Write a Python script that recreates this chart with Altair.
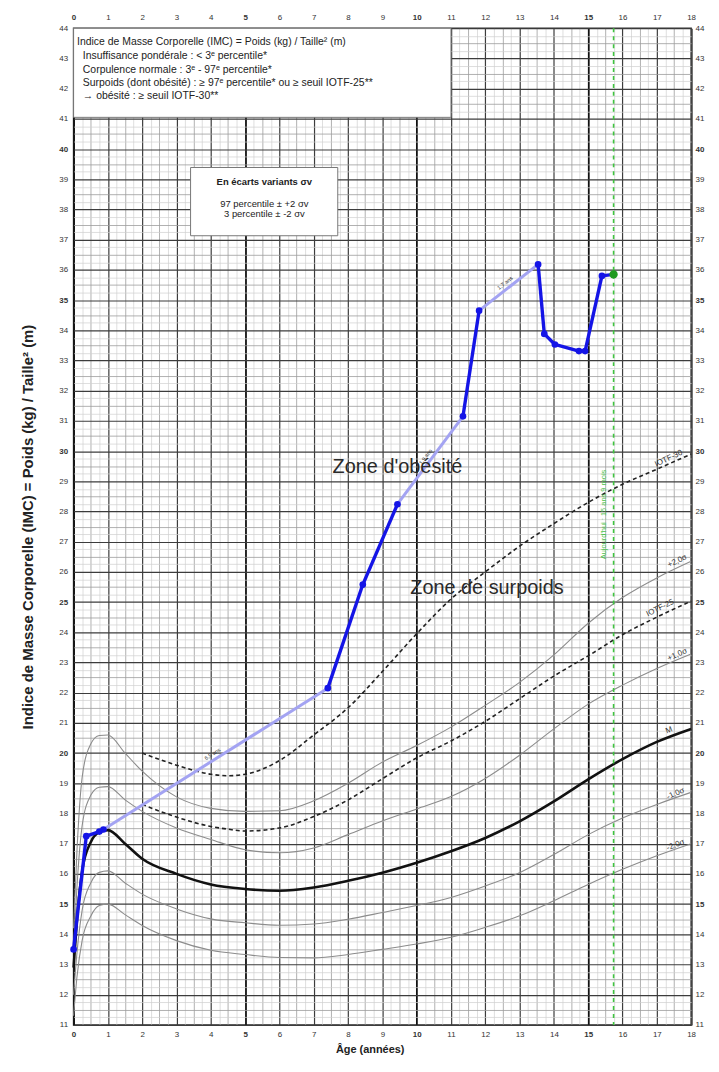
import altair as alt
import pandas as pd
import numpy as np

# ---------------- reference curves ----------------
AGES = [0, 0.1, 0.25, 0.5, 0.75, 1, 1.5, 2, 3, 4, 5, 6, 7, 8, 9, 10, 11, 12, 13, 14, 15, 16, 17, 18]
SD_PLUS2 = [14.2, 16.8, 19.2, 20.3, 20.58, 20.6, 20.0, 19.4, 18.55, 18.17, 18.07, 18.09, 18.42, 19.0, 19.7, 20.25,
            20.86, 21.58, 22.34, 23.25, 24.3, 25.15, 25.8, 26.35]
SD_PLUS1 = [13.5, 15.6, 17.6, 18.6, 18.87, 18.89, 18.45, 18.07, 17.52, 17.14, 16.8, 16.7, 16.86, 17.3, 17.75, 18.15,
            18.56, 19.16, 19.93, 20.8, 21.62, 22.25, 22.8, 23.28]
MEDIAN = [12.9, 14.5, 16.1, 17.05, 17.38, 17.45, 17.0, 16.5, 16.0, 15.65, 15.5, 15.44, 15.55, 15.77, 16.04, 16.37,
          16.75, 17.19, 17.74, 18.4, 19.13, 19.8, 20.37, 20.8]
SD_MINUS1 = [12.0, 13.4, 14.8, 15.7, 16.05, 16.1, 15.7, 15.33, 14.84, 14.51, 14.38, 14.3, 14.34, 14.5, 14.72, 14.95,
             15.22, 15.6, 16.04, 16.64, 17.3, 17.85, 18.3, 18.7]
SD_MINUS2 = [11.3, 12.6, 13.8, 14.6, 14.95, 15.0, 14.65, 14.29, 13.79, 13.47, 13.33, 13.23, 13.22, 13.33, 13.5, 13.68,
             13.9, 14.23, 14.61, 15.11, 15.65, 16.15, 16.6, 17.0]
IOTF_AGES = [2, 3, 4, 4.5, 5, 6, 7, 8, 9, 10, 11, 12, 13, 14, 15, 16, 17, 18]
IOTF30 = [20.0, 19.6, 19.3, 19.25, 19.3, 19.75, 20.6, 21.5, 22.7, 23.95, 25.1, 26.0, 26.85, 27.6, 28.3, 28.9, 29.4, 29.9]
IOTF25 = [18.3, 17.88, 17.57, 17.48, 17.42, 17.52, 17.9, 18.45, 19.15, 19.84, 20.4, 21.05, 21.8, 22.55, 23.22, 23.92,
          24.5, 25.03]

# ---------------- patient measurements ----------------
PATIENT_AGE = [0, 0.37, 0.75, 0.87, 7.41, 8.43, 9.44, 11.35, 11.82, 13.54, 13.72, 14.03, 14.73, 14.91, 15.40, 15.74]
PATIENT_BMI = [13.5, 17.25, 17.4, 17.47, 22.15, 25.58, 28.24, 31.15, 34.65, 36.18, 33.88, 33.53, 33.31, 33.31, 35.8, 35.85]
TODAY_AGE = 15.74

# ---------------- texts ----------------
LEGEND_LINES = [
    "Indice de Masse Corporelle (IMC) = Poids (kg) / Taille² (m)",
    "Insuffisance pondérale : < 3ᵉ percentile*",
    "Corpulence normale : 3ᵉ - 97ᵉ percentile*",
    "Surpoids (dont obésité) : ≥ 97ᵉ percentile* ou ≥ seuil IOTF-25**",
    "→  obésité : ≥ seuil IOTF-30**",
]
LEGEND_X = [0.1, 0.27, 0.27, 0.27, 0.27]
LEGEND_Y = [43.53, 43.07, 42.63, 42.19, 41.75]
SIGMA_TITLE = "En écarts variants σv"
SIGMA_LINES = ["97 percentile ± +2 σv", "3 percentile ± -2 σv"]
SIGMA_TITLE_Y = 38.9
SIGMA_Y = [38.19, 37.86]

X_MIN, X_MAX = 0, 18
Y_MIN, Y_MAX = 11, 44
W, H = 621.5, 1003
PX_X = W / (X_MAX - X_MIN)
PX_Y = H / (Y_MAX - Y_MIN)

xs = alt.Scale(domain=[X_MIN, X_MAX], nice=False, zero=False)
ys = alt.Scale(domain=[Y_MIN, Y_MAX], nice=False, zero=False)

X_GRID = [round(float(v), 2) for v in np.arange(X_MIN, X_MAX + 0.001, 0.25)]
Y_GRID = [round(float(v), 2) for v in np.arange(Y_MIN, Y_MAX + 0.001, 0.25)]


def cond(levels, default):
    return {"condition": [{"test": t, "value": v} for t, v in levels], "value": default}


grid_color_x = cond([("datum.value % 5 === 0", "#111111"), ("datum.value % 1 === 0", "#3c3c3c"),
                     ("datum.value % 0.5 === 0", "#9c9c9c")], "#d0d0d0")
grid_width_x = cond([("datum.value % 5 === 0", 1.8), ("datum.value % 1 === 0", 1.2),
                     ("datum.value % 0.5 === 0", 0.8)], 0.7)
grid_color_y = cond([("datum.value % 1 === 0", "#3c3c3c"), ("datum.value % 0.5 === 0", "#9c9c9c")], "#d0d0d0")
grid_width_y = cond([("datum.value % 1 === 0", 1.2), ("datum.value % 0.5 === 0", 0.8)], 0.7)
bold5 = {"condition": {"test": "datum.value % 5 === 0", "value": "bold"}, "value": "normal"}
LBL = "datum.value % 1 === 0 ? '' + datum.value : ''"

common_lbl = dict(labelExpr=LBL, labelFontSize=8, labelFontWeight=bold5, labelColor="#333",
                  labelOverlap=False, labelFlush=False, ticks=False, domain=False)

x_bottom = alt.Axis(orient="bottom", values=X_GRID, grid=True, gridColor=grid_color_x, gridWidth=grid_width_x,
                    labelPadding=6, title="Âge (années)", titleFontSize=11, titleFontWeight="bold",
                    titleColor="#222", titlePadding=5, titleX=298, **common_lbl)
y_left = alt.Axis(orient="left", values=Y_GRID, grid=True, gridColor=grid_color_y, gridWidth=grid_width_y,
                  labelPadding=6, title="Indice de Masse Corporelle (IMC) = Poids (kg) / Taille² (m)",
                  titleFontSize=15, titleFontWeight="bold", titleColor="#222", titlePadding=23, **common_lbl)
x_top = alt.Axis(orient="top", values=X_GRID, grid=False, labelPadding=7, title=None, **common_lbl)
y_right = alt.Axis(orient="right", values=Y_GRID, grid=False, labelPadding=4, title=None, **common_lbl)

# ---------------- data tables ----------------
thin_rows = []
for name, vals in [("+2", SD_PLUS2), ("+1", SD_PLUS1), ("-1", SD_MINUS1), ("-2", SD_MINUS2)]:
    for a, v in zip(AGES, vals):
        thin_rows.append({"curve": name, "age": a, "bmi": v})
thin_df = pd.DataFrame(thin_rows)
med_df = pd.DataFrame({"age": AGES, "bmi": MEDIAN})
iotf_rows = []
for name, vals in [("IOTF-30", IOTF30), ("IOTF-25", IOTF25)]:
    for a, v in zip(IOTF_AGES, vals):
        iotf_rows.append({"curve": name, "age": a, "bmi": v})
iotf_df = pd.DataFrame(iotf_rows)

seg_rows, gap_rows = [], []
for i in range(len(PATIENT_AGE) - 1):
    a0, a1 = PATIENT_AGE[i], PATIENT_AGE[i + 1]
    b0, b1 = PATIENT_BMI[i], PATIENT_BMI[i + 1]
    kind = "gap" if a1 - a0 > 1.5 else "obs"
    seg_rows.append({"seg": i, "kind": kind, "age": a0, "bmi": b0})
    seg_rows.append({"seg": i, "kind": kind, "age": a1, "bmi": b1})
    if kind == "gap":
        ang = np.degrees(np.arctan2((b1 - b0) * PX_Y, (a1 - a0) * PX_X))
        gap_rows.append({"age": (a0 + a1) / 2, "bmi": (b0 + b1) / 2, "ang": float((360 - ang) % 360),
                         "txt": f"{a1 - a0:.1f}".replace(".", ",") + " ans"})
seg_df = pd.DataFrame(seg_rows)
gap_df = pd.DataFrame(gap_rows)
pts_df = pd.DataFrame({"age": PATIENT_AGE[:-1], "bmi": PATIENT_BMI[:-1]})
today_df = pd.DataFrame({"age": [PATIENT_AGE[-1]], "bmi": [PATIENT_BMI[-1]]})


def X():
    return alt.X("age:Q", scale=xs, axis=None)


def Y():
    return alt.Y("bmi:Q", scale=ys, axis=None)


thin = alt.Chart(thin_df).mark_line(color="#8c8c8c", strokeWidth=1.1, interpolate="monotone").encode(
    x=alt.X("age:Q", scale=xs, axis=x_bottom),
    y=alt.Y("bmi:Q", scale=ys, axis=y_left),
    detail="curve:N",
)
med = alt.Chart(med_df).mark_line(color="#111", strokeWidth=2.6, interpolate="monotone").encode(x=X(), y=Y())
iotf = alt.Chart(iotf_df).mark_line(color="#222", strokeWidth=1.6, strokeDash=[4, 3],
                                    interpolate="monotone").encode(x=X(), y=Y(), detail="curve:N")

green_rule = alt.Chart(pd.DataFrame({"age": [TODAY_AGE]})).mark_rule(
    color="#3fc43f", strokeWidth=1.6, strokeDash=[4, 4]).encode(x=X())

gap_lines = alt.Chart(seg_df).transform_filter("datum.kind == 'gap'").mark_line(
    color="#a3a3f2", strokeWidth=3).encode(x=X(), y=Y(), detail="seg:N")
obs_lines = alt.Chart(seg_df).transform_filter("datum.kind == 'obs'").mark_line(
    color="#1414e6", strokeWidth=3.4).encode(x=X(), y=Y(), detail="seg:N")
pts = alt.Chart(pts_df).mark_point(filled=True, color="#1414e6", size=45, opacity=1).encode(x=X(), y=Y())
today_pt = alt.Chart(today_df).mark_point(filled=True, color="#1f9a1f", size=70, opacity=1).encode(x=X(), y=Y())

gap_txt = alt.Chart(gap_df).mark_text(fontSize=5.5, color="#333", dy=-6, font="Liberation Sans").encode(
    x=X(), y=Y(), text="txt:N", angle=alt.Angle("ang:Q", scale=None))

# legend box
leg_box = alt.Chart(pd.DataFrame({"age": [0.0], "age2": [11.0], "bmi": [44.0], "bmi2": [41.05]})).mark_rect(
    fill="white", stroke="#777", strokeWidth=1).encode(x=X(), x2="age2", y=Y(), y2="bmi2")
leg_txt = alt.Chart(pd.DataFrame({"age": LEGEND_X, "bmi": LEGEND_Y, "t": LEGEND_LINES})).mark_text(
    align="left", baseline="middle", fontSize=10.5, color="#222", font="Liberation Sans").encode(
    x=X(), y=Y(), text="t:N")

sig_box = alt.Chart(pd.DataFrame({"age": [3.41], "age2": [7.70], "bmi": [39.39], "bmi2": [37.13]})).mark_rect(
    fill="white", stroke="#777", strokeWidth=1).encode(x=X(), x2="age2", y=Y(), y2="bmi2")
sig_title = alt.Chart(pd.DataFrame({"age": [5.56], "bmi": [SIGMA_TITLE_Y], "t": [SIGMA_TITLE]})).mark_text(
    align="center", baseline="middle", fontSize=9.5, fontWeight="bold", color="#222",
    font="Liberation Sans").encode(x=X(), y=Y(), text="t:N")
sig_txt = alt.Chart(pd.DataFrame({"age": [5.56] * 2, "bmi": SIGMA_Y, "t": SIGMA_LINES})).mark_text(
    align="center", baseline="middle", fontSize=9.5, color="#222", font="Liberation Sans").encode(
    x=X(), y=Y(), text="t:N")

zones = alt.Chart(pd.DataFrame({"age": [9.44, 12.05], "bmi": [29.46, 25.48],
                                "t": ["Zone d'obésité", "Zone de surpoids"]})).mark_text(
    fontSize=20, color="#2a2a2a", font="Liberation Sans").encode(x=X(), y=Y(), text="t:N")

CURVE_LABELS = ["IOTF-30", "+2,0σ", "IOTF-25", "+1,0σ", "M", "-1,0σ", "-2,0σ"]
CL_AGE = [17.35, 17.6, 17.1, 17.6, 17.36, 17.55, 17.55]
CL_BMI = [29.75, 26.35, 24.8, 23.25, 20.75, 18.65, 16.95]
CL_ANG = [335, 334, 334, 336, 339, 336, 338]
curve_lbl = alt.Chart(pd.DataFrame({"age": CL_AGE, "bmi": CL_BMI, "t": CURVE_LABELS, "ang": CL_ANG})).mark_text(
    fontSize=8, color="#333", font="Liberation Sans").encode(
    x=X(), y=Y(), text="t:N", angle=alt.Angle("ang:Q", scale=None))

today_txt = alt.Chart(pd.DataFrame({"age": [15.45], "bmi": [27.9], "t": ["Aujourd'hui : 15 ans 9 mois"]})).mark_text(
    fontSize=7.5, color="#4cc24c", angle=270, font="Liberation Sans").encode(x=X(), y=Y(), text="t:N")

axes2 = alt.Chart(pd.DataFrame({"age": [0.0], "bmi": [11.0]})).mark_point(opacity=0).encode(
    x=alt.X("age:Q", scale=xs, axis=x_top), y=alt.Y("bmi:Q", scale=ys, axis=y_right))

chart = alt.layer(
    thin, iotf, med, green_rule, today_txt, gap_lines, obs_lines, pts, today_pt, gap_txt,
    leg_box, leg_txt, sig_box, sig_title, sig_txt, zones, curve_lbl, axes2,
).resolve_axis(x="independent", y="independent").properties(
    width=W, height=H,
    autosize=alt.AutoSizeParams(type="none"),
    padding={"left": 66, "top": 17, "right": 20, "bottom": 40},
).configure(font="Liberation Sans").configure_view(stroke="#333", strokeWidth=1.5)

chart.save("out.html", embed_options={"renderer": "svg", "actions": False})
